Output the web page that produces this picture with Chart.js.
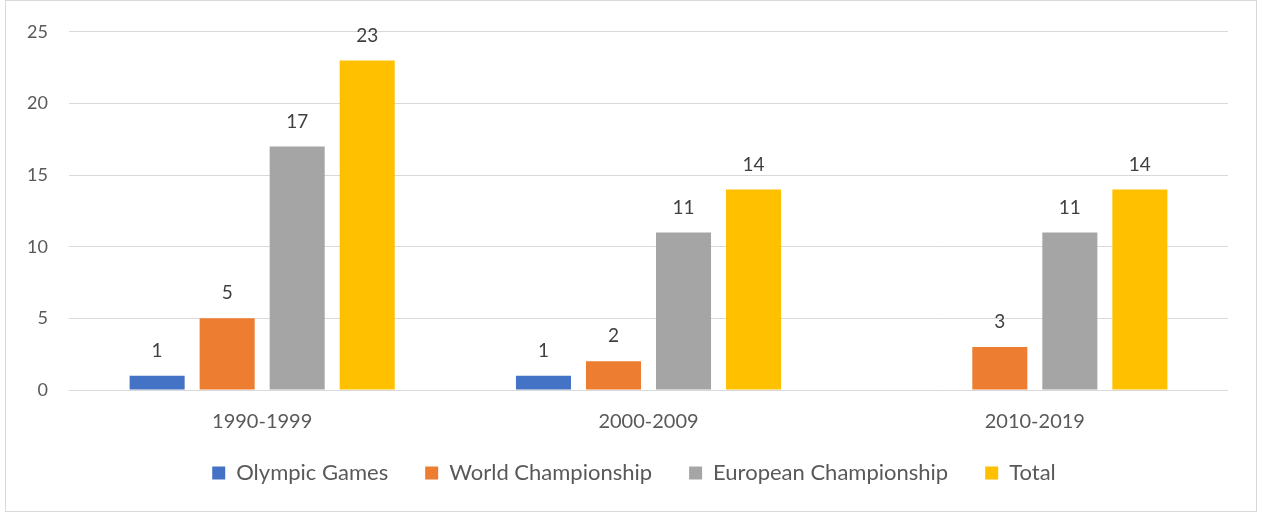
<!DOCTYPE html>
<html>
<head>
<meta charset="utf-8">
<script src="https://cdn.jsdelivr.net/npm/chart.js@4"></script>
<style>
    html, body { margin: 0; padding: 0; background: #fff; }
    #wrap { position: relative; width: 1262px; height: 513px; }
    #frame {
        position: absolute; left: 5px; top: 0; width: 1250px; height: 510px;
        border: 1px solid #d9d9d9; pointer-events: none;
    }
</style>
</head>
<body>
<div id="wrap">
    <canvas id="medalsChart" width="1262" height="513"></canvas>
    <div id="frame"></div>
</div>
<script>
const decades = ['1990-1999', '2000-2009', '2010-2019'];
const olympicGames = [1, 1, null];
const worldChampionship = [5, 2, 3];
const europeanChampionship = [17, 11, 11];
const total = [23, 14, 14];
const yTicks = [0, 5, 10, 15, 20, 25];

const FONT = 'Lato, "Open Sans", sans-serif';
const LEGEND_H = 60;
const LEGEND_PAD = 37;
const LEGEND_SIZE = 22;

// value labels above bars
const valueLabels = {
    id: 'valueLabels',
    afterDatasetsDraw(chart) {
        const ctx = chart.ctx;
        ctx.save();
        ctx.font = '19px ' + FONT;
        ctx.fillStyle = '#404040';
        ctx.textAlign = 'center';
        ctx.textBaseline = 'middle';
        chart.data.datasets.forEach((ds, i) => {
            chart.getDatasetMeta(i).data.forEach((bar, j) => {
                const v = ds.data[j];
                if (v === null || v === undefined) return;
                ctx.fillText(String(v), bar.x, bar.y - 25);
            });
        });
        ctx.restore();
    }
};

// keep the legend short and put its row where the reference has it
const legendSpot = {
    id: 'legendSpot',
    afterInit(chart) {
        const lg = chart.legend;
        const fit = lg.fit.bind(lg);
        lg.fit = function () { fit(); this.height = LEGEND_H; };
    },
    afterLayout(chart) {
        const lg = chart.legend;
        lg.top = 473 - LEGEND_PAD - LEGEND_SIZE / 2;
        lg.bottom = lg.top + LEGEND_H;
        lg.left += 20;
        lg.right += 20;
    }
};

new Chart(document.getElementById('medalsChart'), {
    type: 'bar',
    data: {
        labels: decades,
        datasets: [
            { label: 'Olympic Games', data: olympicGames, backgroundColor: '#4472c4' },
            { label: 'World Championship', data: worldChampionship, backgroundColor: '#ed7d31' },
            { label: 'European Championship', data: europeanChampionship, backgroundColor: '#a5a5a5' },
            { label: 'Total', data: total, backgroundColor: '#ffc000' }
        ]
    },
    options: {
        responsive: false,
        animation: false,
        categoryPercentage: 0.725,
        barPercentage: 0.786,
        layout: { padding: { left: 0, right: 34, top: 23, bottom: 0 } },
        plugins: {
            tooltip: { enabled: false },
            legend: {
                position: 'bottom',
                labels: {
                    boxWidth: 13,
                    boxHeight: 13,
                    padding: LEGEND_PAD,
                    color: '#595959',
                    font: { family: FONT, size: LEGEND_SIZE }
                }
            }
        },
        scales: {
            x: {
                grid: { display: false },
                border: { display: false },
                ticks: { color: '#595959', padding: 12, font: { family: FONT, size: 20 } },
                afterFit(scale) { scale.height = 513 - 390 - LEGEND_H; }
            },
            y: {
                min: 0,
                max: 25,
                afterBuildTicks(scale) { scale.ticks = yTicks.map(v => ({ value: v })); },
                grid: { color: '#d9d9d9', lineWidth: 1, drawTicks: false },
                border: { display: false },
                ticks: { color: '#595959', padding: 21, font: { family: FONT, size: 18 } },
                afterFit(scale) { scale.width = 69; }
            }
        }
    },
    plugins: [valueLabels, legendSpot]
});
</script>
</body>
</html>
